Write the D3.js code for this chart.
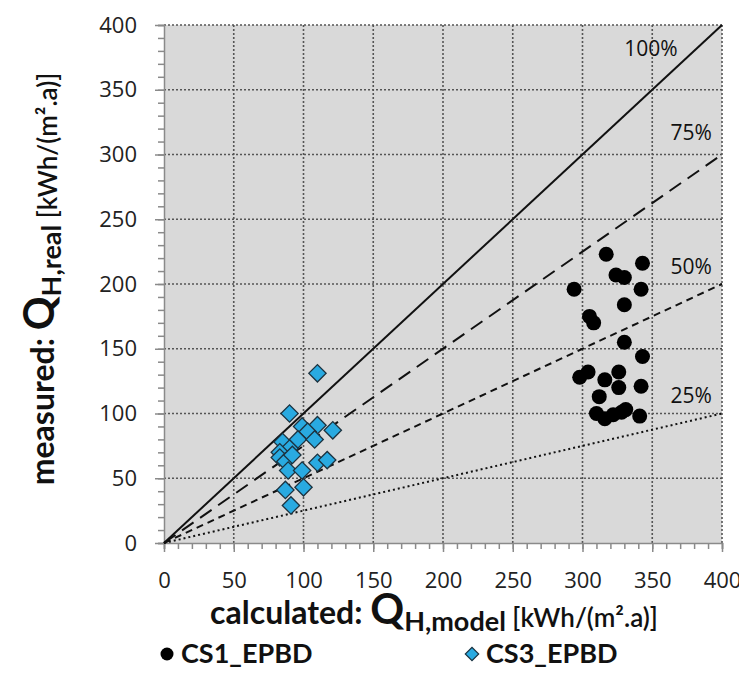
<!DOCTYPE html>
<html>
<head>
<meta charset="utf-8">
<script src="https://cdn.jsdelivr.net/npm/d3@7"></script>
<style>
    body { margin: 0; background: #fff; }
    .tick text { font-family: "Open Sans", sans-serif; font-size: 22px; fill: #222; }
    .ttl { font-family: Lato, "Open Sans", sans-serif; font-weight: bold; fill: #111; }
</style>
</head>
<body>
<svg id="chart" width="739" height="695"></svg>
<script>
// CS1_EPBD (black circles)
var cs1X = [317, 343, 324, 330, 294, 342, 330, 305, 308, 330, 343, 298, 304, 316, 326, 326, 342, 312, 310, 316, 322, 328, 331, 341];
var cs1Y = [223, 216, 207, 205, 196, 196, 184, 175, 170, 155, 144, 128, 132, 126, 132, 120, 121, 113, 100, 96, 99, 101, 103, 98];
// CS3_EPBD (blue diamonds)
var cs3X = [110, 90, 99, 110, 121, 103, 96, 108, 85, 90, 83, 83, 87, 89, 99, 110, 117, 87, 100, 91, 92];
var cs3Y = [131, 100, 90, 91, 87, 86, 80, 80, 78, 73, 70, 66, 63, 56, 56, 62, 64, 41, 43, 29, 68];
// reference lines: measured = ratio * calculated
var ratios = [1, 0.75, 0.5, 0.25];
var ratioLabels = ["100%", "75%", "50%", "25%"];
var labelX = [349, 378, 378, 378];
var labelY = [376, 311, 208, 108];
var ticks = [0, 50, 100, 150, 200, 250, 300, 350, 400];

var svg = d3.select("#chart"),
    margin = {top: 25, right: 17, bottom: 152, left: 164},
    width = svg.attr("width") - margin.left - margin.right,
    height = svg.attr("height") - margin.top - margin.bottom,
    g = svg.append("g").attr("transform", "translate(" + margin.left + "," + margin.top + ")");

var x = d3.scaleLinear().domain([0, 400]).range([0, width]);
var y = d3.scaleLinear().domain([0, 400]).range([height, 0]);

// plot background
g.append("rect")
    .attr("width", width)
    .attr("height", height)
    .attr("fill", "#d9d9d9");

// dotted grid
g.append("g").selectAll("line.gx")
    .data(ticks.slice(1))
    .enter().append("line")
    .attr("x1", function (d) { return x(d); })
    .attr("x2", function (d) { return x(d); })
    .attr("y1", 0).attr("y2", height)
    .attr("stroke", "#555").attr("stroke-width", 1.6).attr("stroke-dasharray", "2,2");
g.append("g").selectAll("line.gy")
    .data(ticks.slice(1))
    .enter().append("line")
    .attr("y1", function (d) { return y(d); })
    .attr("y2", function (d) { return y(d); })
    .attr("x1", 0).attr("x2", width)
    .attr("stroke", "#555").attr("stroke-width", 1.6).attr("stroke-dasharray", "2,2");

// minor ticks
var minor = d3.range(0, 401, 10);
g.append("g")
    .attr("transform", "translate(0," + height + ")")
    .call(d3.axisBottom(x).tickValues(minor).tickSize(6).tickFormat(""))
    .call(function (a) { a.selectAll("line,path").attr("stroke", "#8a8a8a").attr("stroke-width", 1.5); });
g.append("g")
    .call(d3.axisLeft(y).tickValues(minor).tickSize(6).tickFormat(""))
    .call(function (a) { a.selectAll("line,path").attr("stroke", "#8a8a8a").attr("stroke-width", 1.5); });

// major ticks and labels
g.append("g")
    .attr("class", "axis axis--x")
    .attr("transform", "translate(0," + height + ")")
    .call(d3.axisBottom(x).tickValues(ticks).tickSize(9).tickPadding(20).tickFormat(d3.format("d")))
    .call(function (a) {
        a.select(".domain").remove();
        a.selectAll("line").attr("stroke", "#8a8a8a").attr("stroke-width", 1.5);
    });
g.append("g")
    .attr("class", "axis axis--y")
    .call(d3.axisLeft(y).tickValues(ticks).tickSize(9).tickPadding(18).tickFormat(d3.format("d")))
    .call(function (a) {
        a.select(".domain").remove();
        a.selectAll("line").attr("stroke", "#8a8a8a").attr("stroke-width", 1.5);
    });

// ratio lines
var dashes = [null, "14,8", "7,5", "2,3"];
var line = d3.line()
    .x(function (d) { return x(d[0]); })
    .y(function (d) { return y(d[1]); });
g.append("g").selectAll("path")
    .data(ratios)
    .enter().append("path")
    .attr("d", function (r) { return line([[0, 0], [400, 400 * r]]); })
    .attr("fill", "none")
    .attr("stroke", "#111")
    .attr("stroke-width", 2)
    .attr("stroke-dasharray", function (r, i) { return dashes[i]; });

g.append("g").selectAll("text")
    .data(ratioLabels)
    .enter().append("text")
    .attr("x", function (d, i) { return x(labelX[i]); })
    .attr("y", function (d, i) { return y(labelY[i]); })
    .attr("text-anchor", "middle")
    .style("font-family", "'Open Sans', sans-serif")
    .style("font-size", "21px")
    .attr("fill", "#111")
    .text(function (d) { return d; });

// CS3 diamonds
var diamond = d3.symbol().type(d3.symbolSquare).size(150);
g.append("g").selectAll("path")
    .data(cs3X)
    .enter().append("path")
    .attr("d", diamond)
    .attr("transform", function (d, i) { return "translate(" + x(d) + "," + y(cs3Y[i]) + ") rotate(45)"; })
    .attr("fill", "#29aae1")
    .attr("stroke", "#1c3340")
    .attr("stroke-width", 1.3);

// CS1 circles
g.append("g").selectAll("circle")
    .data(cs1X)
    .enter().append("circle")
    .attr("cx", function (d) { return x(d); })
    .attr("cy", function (d, i) { return y(cs1Y[i]); })
    .attr("r", 7.5)
    .attr("fill", "#000");

// axis titles
function title(sel, word, sub) {
    sel.append("tspan").style("font-size", "32px").text(word + " ");
    sel.append("tspan").style("font-size", "42px").text("Q");
    sel.append("tspan").style("font-size", "27px").attr("dy", 7).text(sub);
    sel.append("tspan").style("font-size", "26px").style("font-weight", "600").attr("dy", -4).text(" [kWh/(m².a)]");
}
svg.append("text")
    .attr("class", "ttl")
    .attr("transform", "translate(54,279) rotate(-90)")
    .attr("text-anchor", "middle")
    .call(title, "measured:", "H,real");

svg.append("text")
    .attr("class", "ttl")
    .attr("x", 434)
    .attr("y", 624)
    .attr("text-anchor", "middle")
    .call(title, "calculated:", "H,model");

// legend
var legend = svg.append("g");
legend.append("circle").attr("cx", 167).attr("cy", 654).attr("r", 6.5).attr("fill", "#000");
legend.append("text").attr("class", "ttl").attr("x", 181).attr("y", 663)
    .style("font-size", "27px").text("CS1_EPBD");
legend.append("path")
    .attr("d", d3.symbol().type(d3.symbolSquare).size(90))
    .attr("transform", "translate(472,654) rotate(45)")
    .attr("fill", "#29aae1").attr("stroke", "#1c3340").attr("stroke-width", 1.2);
legend.append("text").attr("class", "ttl").attr("x", 486).attr("y", 663)
    .style("font-size", "27px").text("CS3_EPBD");
</script>
</body>
</html>
